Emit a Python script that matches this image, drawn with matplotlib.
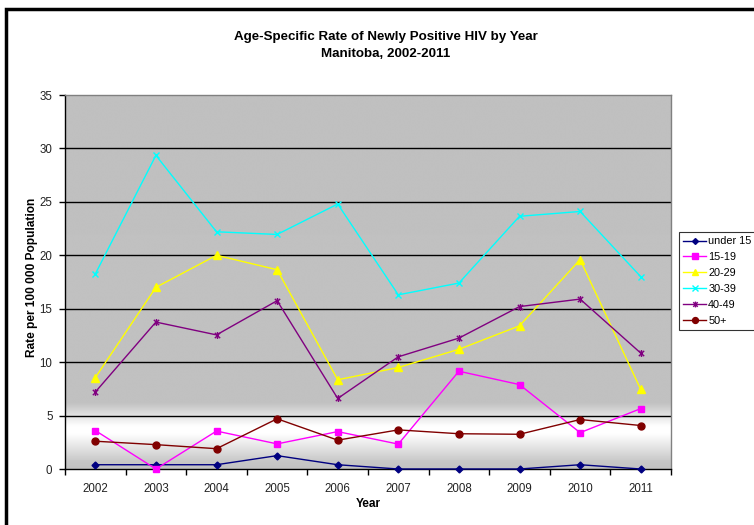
import numpy as np
import matplotlib
matplotlib.use("Agg")
import matplotlib.pyplot as plt
from matplotlib.path import Path
from matplotlib.patches import Rectangle

plt.rcParams['font.family'] = ['Liberation Sans', 'DejaVu Sans']

years = ["2002", "2003", "2004", "2005", "2006", "2007", "2008", "2009", "2010", "2011"]

under_15 = [0.4, 0.4, 0.4, 1.25, 0.4, 0.0, 0.0, 0.0, 0.4, 0.0]
age_15_19 = [3.6, 0.0, 3.55, 2.35, 3.5, 2.33, 9.15, 7.9, 3.4, 5.65]
age_20_29 = [8.55, 17.0, 20.0, 18.65, 8.35, 9.5, 11.2, 13.4, 19.6, 7.45]
age_30_39 = [18.25, 29.35, 22.2, 21.95, 24.8, 16.3, 17.4, 23.65, 24.1, 18.0]
age_40_49 = [7.2, 13.75, 12.55, 15.75, 6.6, 10.5, 12.25, 15.2, 15.9, 10.85]
age_50_up = [2.6, 2.28, 1.9, 4.7, 2.7, 3.66, 3.3, 3.25, 4.63, 4.07]

W, H = 754, 525
fig = plt.figure(figsize=(W / 100, H / 100), dpi=100)
fig.patch.set_facecolor("white")

# plot area in pixel coords
left, right, top, bottom = 65, 671, 95, 469
ax = fig.add_axes([left / W, 1 - bottom / H, (right - left) / W, (bottom - top) / H])

x = np.arange(len(years))

# plot area fill: flat gray with a light band near the bottom
yy = np.linspace(0, 35, 1400)
shade = np.interp(yy, [0, 0.7, 3.3, 4.0, 6.2, 35], [0.76, 0.78, 1.0, 1.0, 0.755, 0.753])
img = np.repeat(shade[:, None], 2, axis=1)
ax.imshow(img, cmap="gray", vmin=0, vmax=1, origin="lower", aspect="auto",
          extent=(-0.5, 9.5, 0, 35), zorder=0, interpolation="bilinear")

for g in range(5, 35, 5):
    ax.axhline(g, color="black", lw=1.0, zorder=1)

# Excel style "star" marker: x with a vertical bar
star = Path([(-1, -1), (1, 1), (-1, 1), (1, -1), (0, -1.3), (0, 1.3)],
            [Path.MOVETO, Path.LINETO, Path.MOVETO, Path.LINETO, Path.MOVETO, Path.LINETO])

series = [
    ("under 15", under_15, "#000080", "D", 3.5),
    ("15-19", age_15_19, "#FF00FF", "s", 5),
    ("20-29", age_20_29, "#FFFF00", "^", 5.5),
    ("30-39", age_30_39, "#00FFFF", "x", 5),
    ("40-49", age_40_49, "#800080", star, 5),
    ("50+", age_50_up, "#800000", "o", 5),
]

handles = []
for name, vals, col, mk, ms in series:
    ln, = ax.plot(x, vals, color=col, lw=1.0, marker=mk, markersize=ms,
                  markerfacecolor=col, markeredgecolor=col, markeredgewidth=1.0,
                  label=name, zorder=3, clip_on=False)
    handles.append(ln)

ax.set_xlim(-0.5, 9.5)
ax.set_ylim(0, 35)
ax.set_yticks(range(0, 40, 5))
ax.set_xticks(x)
ax.set_xticklabels(years)
ax.set_xticks(np.arange(-0.5, 10, 1), minor=True)
ax.tick_params(axis="x", which="major", length=0, labelsize=8.3, pad=10, colors="#222222")
ax.tick_params(axis="x", which="minor", length=4, width=1, direction="out", color="black")
ax.tick_params(axis="y", length=4, width=1, direction="out", labelsize=8.3, pad=5,
               colors="#222222")
ax.tick_params(axis="y", color="black")

for s in ["top", "right"]:
    ax.spines[s].set_color("#808080")
    ax.spines[s].set_linewidth(1.0)
for s in ["left", "bottom"]:
    ax.spines[s].set_color("black")
    ax.spines[s].set_linewidth(1.0)

fig.text(386 / W, 1 - 37 / H, "Age-Specific Rate of Newly Positive HIV by Year",
         ha="center", va="center", fontsize=9.6, fontweight="bold")
fig.text(386 / W, 1 - 54 / H, "Manitoba, 2002-2011",
         ha="center", va="center", fontsize=9.6, fontweight="bold")
fig.text(32 / W, 1 - 277 / H, "Rate per 100 000 Population", rotation=90,
         ha="center", va="center", fontsize=8.6, fontweight="bold")
fig.text(368 / W, 1 - 504 / H, "Year", ha="center", va="center",
         fontsize=8.6, fontweight="bold")

leg = fig.legend(handles=handles, loc="upper left",
                 bbox_to_anchor=(679 / W, 1 - 232 / H), fontsize=7.8,
                 frameon=True, fancybox=False, edgecolor="black",
                 borderpad=0.4, labelspacing=0.55, handlelength=2.1,
                 handletextpad=0.2, borderaxespad=0, markerscale=0.85)
leg.get_frame().set_linewidth(0.8)

# outer chart border (only left and top show in the crop)
fig.add_artist(Rectangle((6 / W, -0.1), 1.2, 1 - 9 / H + 0.1, transform=fig.transFigure,
                         fill=False, edgecolor="black", lw=2.5))

fig.savefig("out.png", dpi=100, facecolor="white")
